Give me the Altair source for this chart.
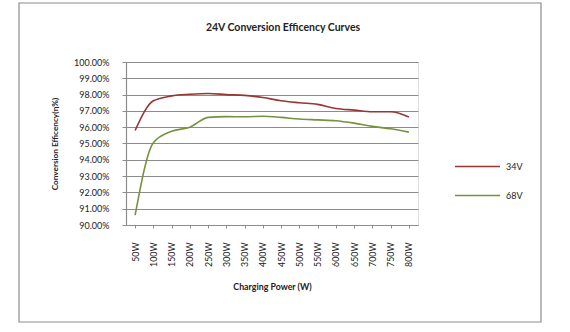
import altair as alt
import pandas as pd

powers = ["50W", "100W", "150W", "200W", "250W", "300W", "350W", "400W",
          "450W", "500W", "550W", "600W", "650W", "700W", "750W", "800W"]
eff_34v = [95.80, 97.62, 97.92, 98.02, 98.07, 98.00, 97.95, 97.82,
           97.62, 97.50, 97.40, 97.15, 97.05, 96.95, 96.95, 96.62]
eff_68v = [90.60, 95.05, 95.75, 96.00, 96.60, 96.65, 96.64, 96.67,
           96.60, 96.50, 96.45, 96.40, 96.25, 96.05, 95.90, 95.70]
series = ["34V", "68V"]
colors = ["#953735", "#76923C"]
title_text = ["24V  Conversion Efficency Curves"]

rows = []
for p, a, b in zip(powers, eff_34v, eff_68v):
    rows.append({"power": p, "series": "34V", "eff": a / 100})
    rows.append({"power": p, "series": "68V", "eff": b / 100})
df = pd.DataFrame(rows)

FONT = "Lato"
GRAY = "#8c8c8c"
TXT = "#222"

border = alt.Chart(pd.DataFrame({"d": [0]})).mark_rect(
    fill=None, stroke=GRAY, strokeWidth=1.2
).encode(
    x=alt.value(19 - 126), x2=alt.value(541 - 126),
    y=alt.value(3 - 62), y2=alt.value(322 - 62),
)

title = alt.Chart(pd.DataFrame({"t": title_text})).mark_text(
    font=FONT, fontSize=10.5, fontWeight="bold", color=TXT,
    align="center", baseline="middle"
).encode(text="t:N", x=alt.value(283 - 126), y=alt.value(28 - 62))

lines = alt.Chart(df).mark_line(interpolate="monotone", strokeWidth=1.6).encode(
    x=alt.X("power:O", sort=powers,
            scale=alt.Scale(type="point", padding=0.5),
            axis=alt.Axis(title="Charging  Power  (W)", labelAngle=270,
                          labelPadding=14, tickSize=3, tickColor=GRAY,
                          domainColor=GRAY, domainWidth=1.2,
                          titlePadding=16, grid=False,
                          labelFont=FONT, labelFontSize=8.8, labelColor=TXT,
                          titleFont=FONT, titleFontSize=8.8,
                          titleFontWeight="bold", titleColor=TXT)),
    y=alt.Y("eff:Q", scale=alt.Scale(domain=[0.90, 1.00], nice=False, zero=False),
            axis=alt.Axis(title="Conversion Efficency(η%)", format=".2%",
                          values=[0.90 + i * 0.01 for i in range(11)],
                          tickSize=4, tickColor=GRAY, labelPadding=13,
                          domainColor=GRAY, domainWidth=1.2,
                          gridColor=GRAY, gridWidth=1.2, titlePadding=14,
                          labelFont=FONT, labelFontSize=9, labelColor=TXT,
                          titleFont=FONT, titleFontSize=8.2,
                          titleFontWeight="bold", titleColor=TXT)),
    color=alt.Color("series:N", scale=alt.Scale(domain=series, range=colors),
                    legend=alt.Legend(title=None, orient="none",
                                      legendX=328, legendY=81,
                                      symbolType="stroke", symbolSize=2025,
                                      symbolStrokeWidth=1.6, rowPadding=-24,
                                      labelOffset=5, padding=0,
                                      labelFont=FONT, labelFontSize=9,
                                      labelColor=TXT)),
)

chart = alt.layer(border, title, lines).properties(
    width=292, height=163,
    autosize=alt.AutoSizeParams(type="none"),
    padding={"left": 126, "top": 62, "right": 570 - 418, "bottom": 332 - 225},
).configure_view(stroke=None).configure(background="white")

chart.save("out.html", embed_options={"renderer": "svg", "actions": False})
